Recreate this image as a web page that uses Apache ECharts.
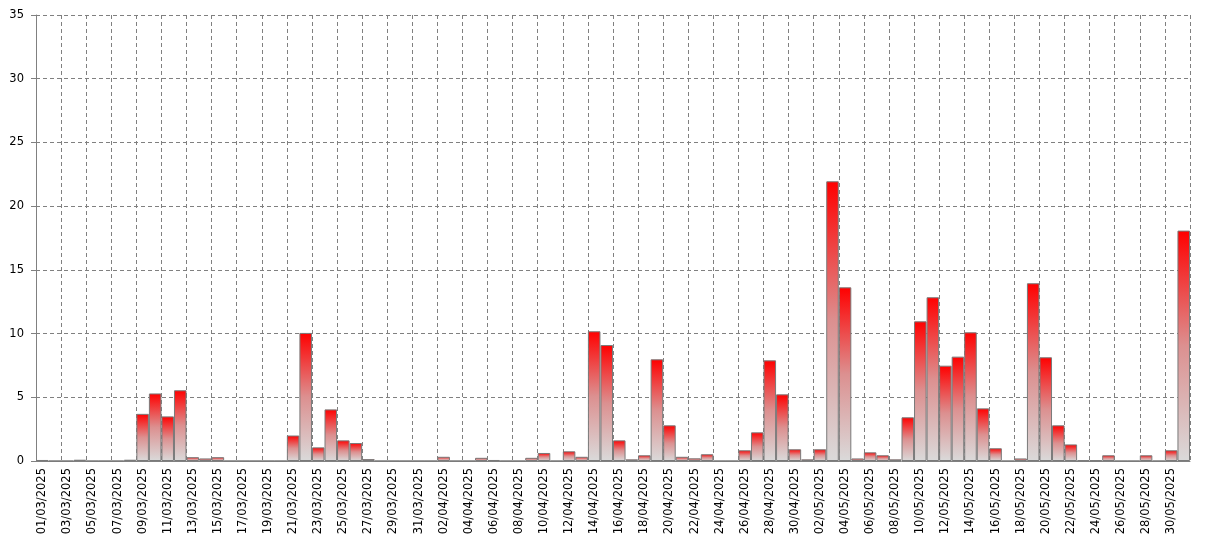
<!DOCTYPE html>
<html>
<head>
<meta charset="utf-8">
<script src="https://cdn.jsdelivr.net/npm/echarts@6/dist/echarts.min.js"></script>
<style>html,body{margin:0;padding:0;background:#fff}#c{width:1205px;height:543px}</style>
</head>
<body>
<div id="c"></div>
<script>
const months = [['03', 31], ['04', 30], ['05', 31]];
const categories = [];
months.forEach(([m, n]) => { for (let d = 1; d <= n; d++) categories.push(String(d).padStart(2, '0') + '/' + m + '/2025'); });

const marchValues = [0.08,0,0,0.1,0,0,0,0.1,3.7,5.3,3.5,5.55,0.3,0.2,0.3,0,0,0,0,0,2.0,10.05,1.07,4.05,1.62,1.41,0.15,0,0,0,0];
const aprilValues = [0,0.33,0,0,0.25,0.08,0,0,0.25,0.63,0,0.76,0.33,10.18,9.1,1.62,0.13,0.45,7.98,2.8,0.33,0.21,0.53,0,0,0.84,2.25,7.9,5.23,0.92];
const mayValues = [0.13,0.92,21.95,13.63,0.2,0.68,0.45,0.13,3.43,10.96,12.85,7.48,8.19,10.1,4.13,1.0,0,0.2,13.95,8.14,2.8,1.3,0.05,0.05,0.45,0,0,0.45,0,0.84,18.08];
const values = marchValues.concat(aprilValues, mayValues);
const yTicks = [0, 5, 10, 15, 20, 25, 30, 35];

const chart = echarts.init(document.getElementById('c'));
const gray = '#808080';
chart.setOption({
  animation: false,
  grid: { left: 36, right: 15, top: 15, bottom: 82, containLabel: false },
  xAxis: {
    type: 'category',
    data: categories,
    boundaryGap: true,
    axisLine: { lineStyle: { color: gray, width: 1 } },
    axisTick: { interval: 1, length: 4, lineStyle: { color: gray } },
    axisLabel: { interval: 1, rotate: 90, margin: 7, color: '#000', fontFamily: 'DejaVu Sans', fontSize: 11.5 },
    splitLine: { show: true, interval: 1, lineStyle: { color: gray, type: [4, 3], width: 1 } }
  },
  yAxis: {
    type: 'value',
    min: yTicks[0],
    max: yTicks[yTicks.length - 1],
    interval: 5,
    axisLine: { show: true, lineStyle: { color: gray, width: 1 } },
    axisTick: { show: true, length: 5, lineStyle: { color: gray } },
    axisLabel: { margin: 12, color: '#000', fontFamily: 'DejaVu Sans', fontSize: 11.5 },
    splitLine: { show: true, lineStyle: { color: gray, type: [4, 3], width: 1 } }
  },
  series: [{
    type: 'bar',
    data: values,
    barWidth: '100%',
    barCategoryGap: '0%',
    itemStyle: {
      borderColor: '#7a7a7a',
      borderWidth: 1,
      color: new echarts.graphic.LinearGradient(0, 0, 0, 1, [
        { offset: 0, color: '#ff0000' },
        { offset: 0.5, color: '#dc9090' },
        { offset: 1, color: '#dadada' }
      ])
    }
  }]
});
</script>
</body>
</html>
